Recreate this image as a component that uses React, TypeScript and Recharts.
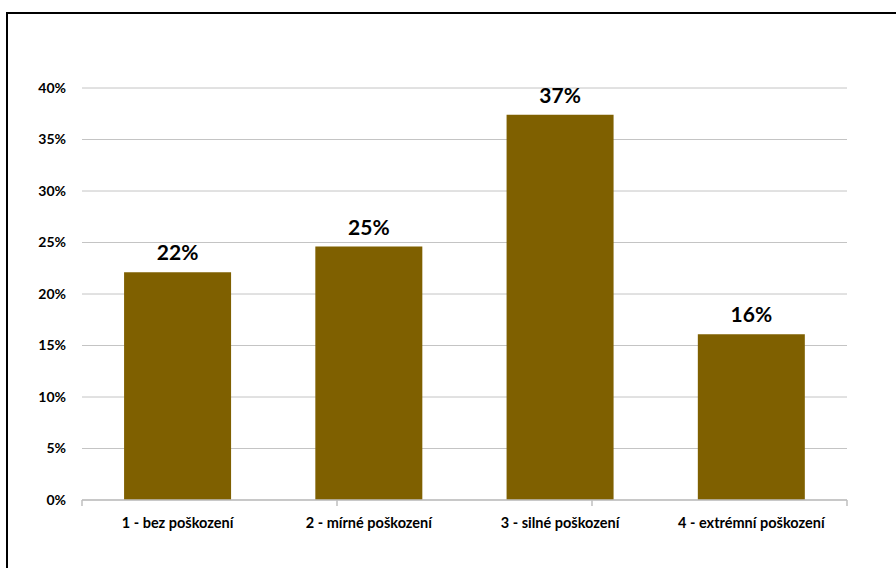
import React from "react";
import { BarChart, Bar, XAxis, YAxis, CartesianGrid, LabelList } from "recharts";

const categories = ["1 - bez poškození", "2 - mírné poškození", "3 - silné poškození", "4 - extrémní poškození"];
const shares = [22.1, 24.6, 37.4, 16.1];
const yTicks = [0, 5, 10, 15, 20, 25, 30, 35, 40];
const boundaryTicks = [0, 1, 2, 3, 4];

const data = categories.map((c, i) => ({ name: c, value: shares[i] }));

const FONT = "Lato, 'Open Sans', sans-serif";

export default function App() {
  return (
    <div style={{ position: "absolute", left: 0, top: 0, width: 896, height: 568, background: "#fff", overflow: "hidden" }}>
      <div style={{ position: "absolute", left: 6, top: 12, width: 1000, height: 1000, border: "2px solid #000", boxSizing: "border-box" }} />
      <div style={{ position: "absolute", left: 0, top: 0 }}>
        <BarChart width={896} height={568} data={data} margin={{ top: 88, right: 49, bottom: 30, left: 0 }} barCategoryGap="22%">
          <CartesianGrid vertical={false} stroke="#c4c4c4" strokeWidth={1} />
          <XAxis
            xAxisId="a_num"
            type="number"
            domain={[0, 4]}
            ticks={boundaryTicks}
            interval={0}
            allowDataOverflow
            height={8}
            axisLine={{ stroke: "#bfbfbf", strokeWidth: 1.5 }}
            tickLine={{ stroke: "#bfbfbf", strokeWidth: 1.5 }}
            tickSize={6}
            tick={() => <g />}
          />
          <XAxis
            xAxisId="b_cat"
            dataKey="name"
            height={30}
            axisLine={false}
            tickLine={false}
            tickMargin={4}
            interval={0}
            tick={{ fill: "#000", fontSize: 14.5, fontWeight: 700, fontFamily: FONT }}
          />
          <YAxis
            width={82}
            domain={[0, 40]}
            ticks={yTicks}
            axisLine={false}
            tickLine={false}
            tickMargin={10}
            tickFormatter={(v: number) => `${v}%`}
            tick={{ fill: "#000", fontSize: 14, fontWeight: 700, fontFamily: FONT }}
          />
          <Bar xAxisId="b_cat" dataKey="value" fill="#7f6000" isAnimationActive={false}>
            <LabelList
              dataKey="value"
              position="top"
              offset={12}
              formatter={(v: number) => `${Math.round(v)}%`}
              style={{ fill: "#000", fontSize: 21, fontWeight: 700, fontFamily: FONT }}
            />
          </Bar>
        </BarChart>
      </div>
    </div>
  );
}
